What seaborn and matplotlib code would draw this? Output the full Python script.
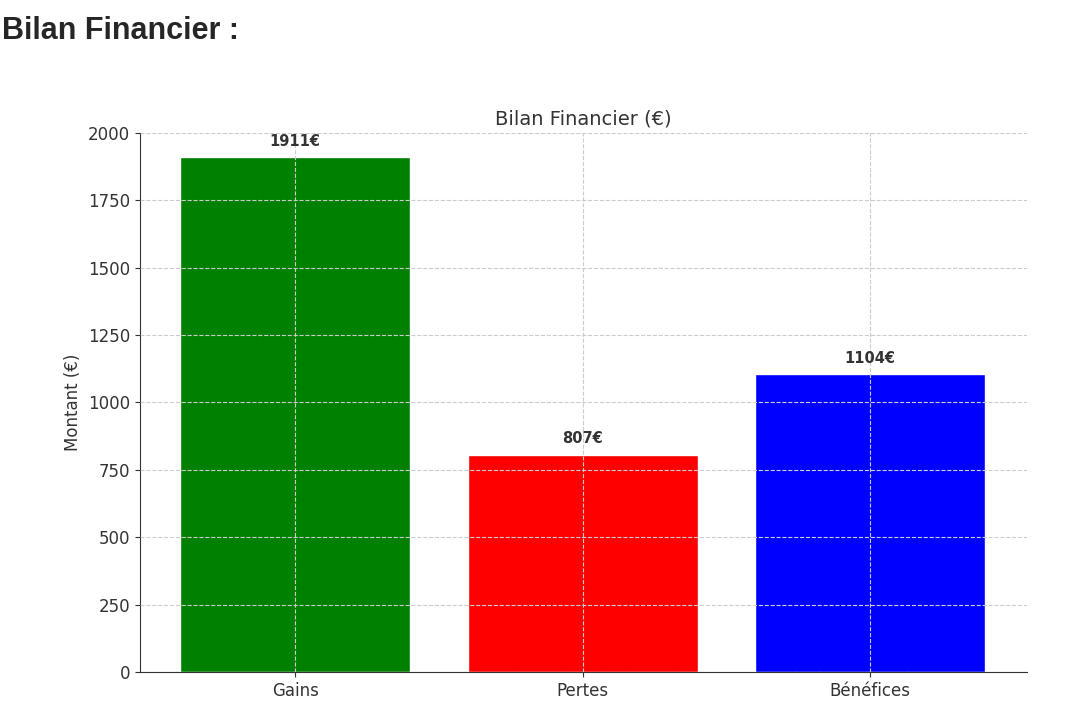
import matplotlib
matplotlib.use("Agg")
import matplotlib.pyplot as plot
import seaborn
import pandas

categories = ["Gains", "Pertes", "Bénéfices"]
values = [1911, 807, 1104]
colors = ["green", "red", "blue"]

seaborn.set_style("ticks")
plot.rcParams['font.family'] = ['DejaVu Sans']

df = pandas.DataFrame({"cat": categories, "val": values})

fig = plot.figure(figsize=(10.8, 7.12), dpi=100)
ax = fig.add_axes([0.1296, 0.0562, 0.821, 0.757])
seaborn.barplot(data=df, x="cat", y="val", hue="cat", palette=colors, width=0.8,
                saturation=1, legend=False, ax=ax)
for i, v in enumerate(values):
    ax.text(i, v + 30, f"{v}€", ha="center", va="bottom", fontsize=10.5,
            fontweight="bold", color="#333333")

ax.set_xlim(-0.54, 2.545)
ax.set_ylim(0, 2000)
ax.set_title("Bilan Financier (€)", fontsize=14, color="#333333", pad=6)
ax.set_xlabel("")
ax.set_ylabel("Montant (€)", fontsize=12, color="#333333")
ax.tick_params(labelsize=12, colors="#333333")
ax.grid(True, linestyle="--", color="#cccccc", linewidth=0.8)
ax.set_axisbelow(False)
for b in ax.patches:
    b.set_zorder(1)
for s in ["top", "right"]:
    ax.spines[s].set_visible(False)
for s in ["left", "bottom"]:
    ax.spines[s].set_color("#333333")

fig.text(0.002, 0.957, "Bilan Financier :", fontsize=22, fontweight="bold",
         family="Liberation Sans", va="center", ha="left")

fig.savefig("out.png", dpi=100)
